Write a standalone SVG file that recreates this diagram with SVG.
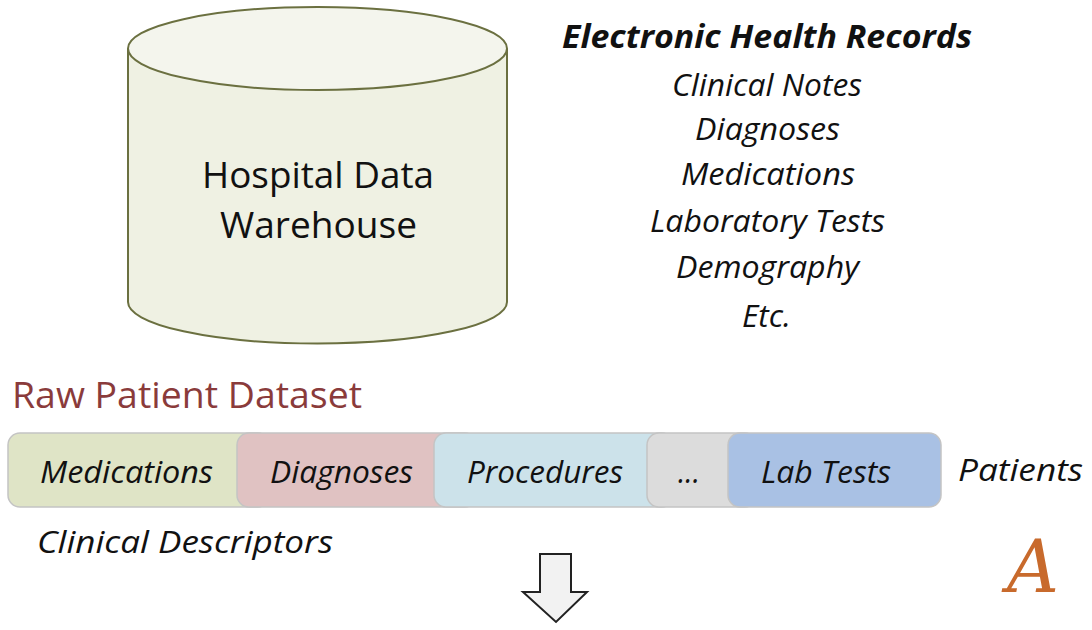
<svg xmlns="http://www.w3.org/2000/svg" width="1092" height="630" viewBox="0 0 1092 630">
<style>
.t{font-family:"Open Sans","Liberation Sans",sans-serif;fill:#111}
.i{font-style:italic}
.seg{stroke:#c4c4c4;stroke-width:1.5}
</style>
<rect width="1092" height="630" fill="#fff"/>
<g id="warehouse">
<path d="M128,48.5 L128,302 A189.5,41.5 0 0 0 507,302 L507,48.5" fill="#eff1e3" stroke="#6b7040" stroke-width="2"/>
<ellipse cx="317.5" cy="48.5" rx="189.5" ry="41.5" fill="#f4f5ed" stroke="#6b7040" stroke-width="2"/>
<text class="t" x="202" y="188" font-size="37" textLength="232" lengthAdjust="spacingAndGlyphs">Hospital Data</text>
<text class="t" x="220" y="238" font-size="37" textLength="197" lengthAdjust="spacingAndGlyphs">Warehouse</text>
</g>
<g id="ehr" class="t i" font-size="31">
<text x="562" y="48" font-weight="bold" font-size="32" textLength="410" lengthAdjust="spacingAndGlyphs">Electronic Health Records</text>
<text x="672" y="96" textLength="190" lengthAdjust="spacingAndGlyphs">Clinical Notes</text>
<text x="695" y="140" textLength="145" lengthAdjust="spacingAndGlyphs">Diagnoses</text>
<text x="681" y="185" textLength="174" lengthAdjust="spacingAndGlyphs">Medications</text>
<text x="650" y="232" textLength="235" lengthAdjust="spacingAndGlyphs">Laboratory Tests</text>
<text x="676" y="278" textLength="183" lengthAdjust="spacingAndGlyphs">Demography</text>
<text x="742" y="327" textLength="49" lengthAdjust="spacingAndGlyphs">Etc.</text>
</g>
<text id="raw-title" class="t" x="12" y="408" font-size="36" style="fill:#8a3b3b" textLength="350" lengthAdjust="spacingAndGlyphs">Raw Patient Dataset</text>
<g id="dataset">
<rect class="seg" x="8" y="433" width="262" height="74" rx="12" fill="#dfe4c6"/>
<rect class="seg" x="237" y="433" width="240" height="74" rx="12" fill="#e0c2c2"/>
<rect class="seg" x="434" y="433" width="240" height="74" rx="12" fill="#cce2ea"/>
<rect class="seg" x="647" y="433" width="110" height="74" rx="12" fill="#dcdcdc"/>
<rect class="seg" x="728" y="433" width="213" height="74" rx="12" fill="#a9c1e4"/>
<g class="t i" font-size="31">
<text x="40" y="483" textLength="173" lengthAdjust="spacingAndGlyphs">Medications</text>
<text x="270" y="483" textLength="143" lengthAdjust="spacingAndGlyphs">Diagnoses</text>
<text x="467" y="483" textLength="156" lengthAdjust="spacingAndGlyphs">Procedures</text>
<text x="678" y="483" textLength="22" lengthAdjust="spacingAndGlyphs">...</text>
<text x="761" y="483" textLength="130" lengthAdjust="spacingAndGlyphs">Lab Tests</text>
</g>
</g>
<text id="patients" class="t i" x="958" y="481" font-size="31" textLength="125" lengthAdjust="spacingAndGlyphs">Patients</text>
<text id="descriptors" class="t i" x="37" y="553" font-size="31" textLength="296" lengthAdjust="spacingAndGlyphs">Clinical Descriptors</text>
<text id="label-a" x="1007" y="592" font-family="'DejaVu Serif','Liberation Serif',serif" font-style="italic" font-size="72" fill="#c86a2c">A</text>
<g id="connectors">
<polygon points="540,554 571,554 571,592 587,592 556,622 523,592 540,592" fill="#f2f2f2" stroke="#222" stroke-width="2"/>
</g>
</svg>
